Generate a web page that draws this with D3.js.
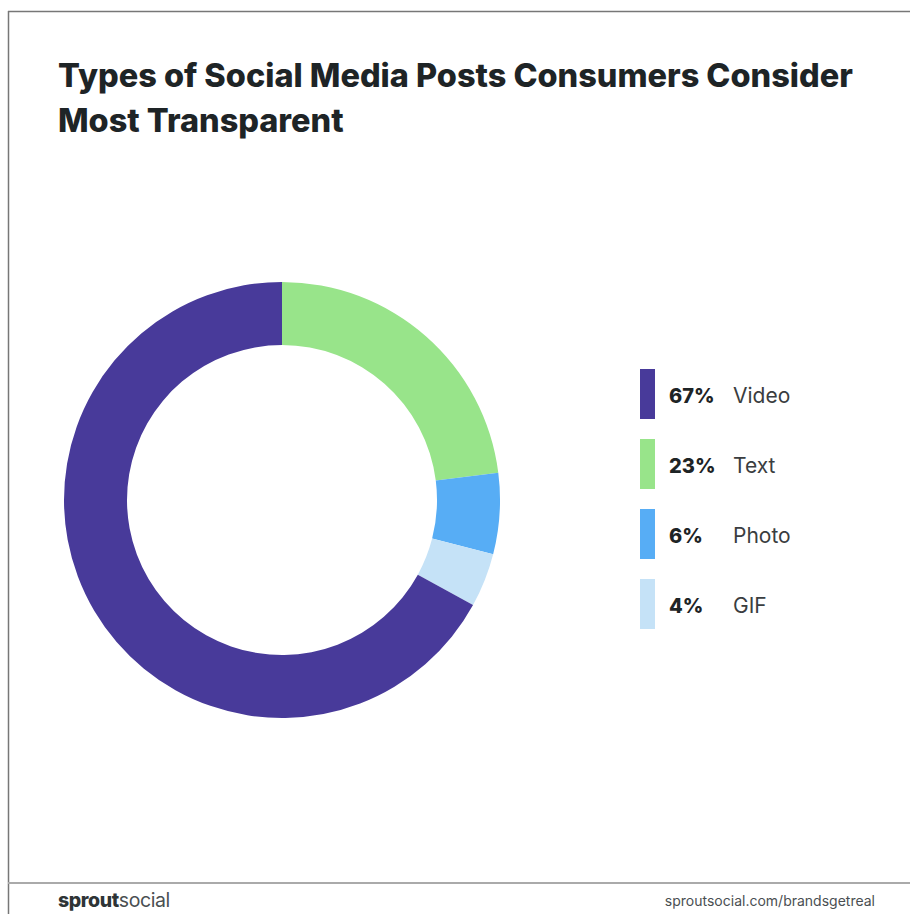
<!DOCTYPE html>
<html>
<head>
<meta charset="utf-8">
<script src="https://cdn.jsdelivr.net/npm/d3@7"></script>
<style>
  body { margin: 0; background: #fff; }
  svg { display: block; }
</style>
</head>
<body>
<div id="chart"></div>
<script>
// data
const categories = ["Text", "Photo", "GIF", "Video"]; // clockwise from 12 o'clock
const shares = [23, 6, 4, 67];
const colors = ["#98e48a", "#57adf5", "#c5e2f7", "#483a9a"];
const legendOrder = ["Video", "Text", "Photo", "GIF"];
const titleLines = ["Types of Social Media Posts Consumers Consider", "Most Transparent"];

const W = 911, H = 914;
const font = "Inter, 'Open Sans', sans-serif";
const svg = d3.select("#chart").append("svg")
    .attr("width", W)
    .attr("height", H);

// frame lines
svg.append("line").attr("x1", 8.5).attr("x2", 8.5).attr("y1", 11).attr("y2", H)
    .attr("stroke", "#777").attr("stroke-width", 1.5);
svg.append("line").attr("x1", 8).attr("x2", 910).attr("y1", 11.5).attr("y2", 11.5)
    .attr("stroke", "#777").attr("stroke-width", 1.5);
svg.append("line").attr("x1", 8).attr("x2", 910).attr("y1", 883).attr("y2", 883)
    .attr("stroke", "#aaa").attr("stroke-width", 2);

// title
const title = svg.append("g").selectAll("text")
    .data(titleLines)
    .enter()
    .append("text")
    .attr("x", 58)
    .attr("y", (d, i) => 87 + i * 45)
    .style("font-family", font)
    .style("font-weight", 800)
    .style("font-size", "30px")
    .attr("fill", "#1e2426")
    .text(d => d);
// fit first line to ~795px like the reference
let w0 = title.node().getComputedTextLength();
title.style("font-size", (30 * 795 / w0).toFixed(2) + "px");

// donut
const data = categories.map((c, i) => ({name: c, value: shares[i], color: colors[i]}));
const pie = d3.pie().sort(null).value(d => d.value);
const arc = d3.arc().innerRadius(155).outerRadius(218);

const g = svg.append("g").attr("transform", "translate(282,500)");
g.selectAll("path")
    .data(pie(data))
    .enter()
    .append("path")
    .attr("d", arc)
    .attr("fill", d => d.data.color);

// legend
const byName = {};
data.forEach(d => byName[d.name] = d);
const y = d3.scaleBand().domain(legendOrder).range([369, 629]).paddingInner(0.2857).paddingOuter(0);

const leg = svg.append("g");
const item = leg.selectAll("g")
    .data(legendOrder)
    .enter()
    .append("g")
    .attr("transform", d => `translate(640,${y(d)})`);

item.append("rect")
    .attr("width", 15)
    .attr("height", y.bandwidth())
    .attr("fill", d => byName[d].color);

item.append("text")
    .attr("x", 29)
    .attr("y", 34)
    .style("font-family", font)
    .style("font-weight", 800)
    .style("font-size", "20px")
    .attr("fill", "#1e2426")
    .text(d => byName[d].value + "%");

item.append("text")
    .attr("x", 93)
    .attr("y", 34)
    .style("font-family", font)
    .style("font-size", "21px")
    .attr("fill", "#3a3d40")
    .text(d => d);

// footer
const logo = svg.append("text")
    .attr("x", 58)
    .attr("y", 907)
    .style("font-family", font)
    .style("font-size", "19.5px")
    .style("letter-spacing", "-0.4px")
    .attr("fill", "#2e3436");
logo.append("tspan").style("font-weight", 800).text("sprout");
logo.append("tspan").style("font-weight", 400).attr("fill", "#4a4f52").text("social");

svg.append("text")
    .attr("x", 875)
    .attr("y", 906)
    .attr("text-anchor", "end")
    .style("font-family", font)
    .style("font-size", "14px")
    .attr("fill", "#4a4f52")
    .text("sproutsocial.com/brandsgetreal");
</script>
</body>
</html>
